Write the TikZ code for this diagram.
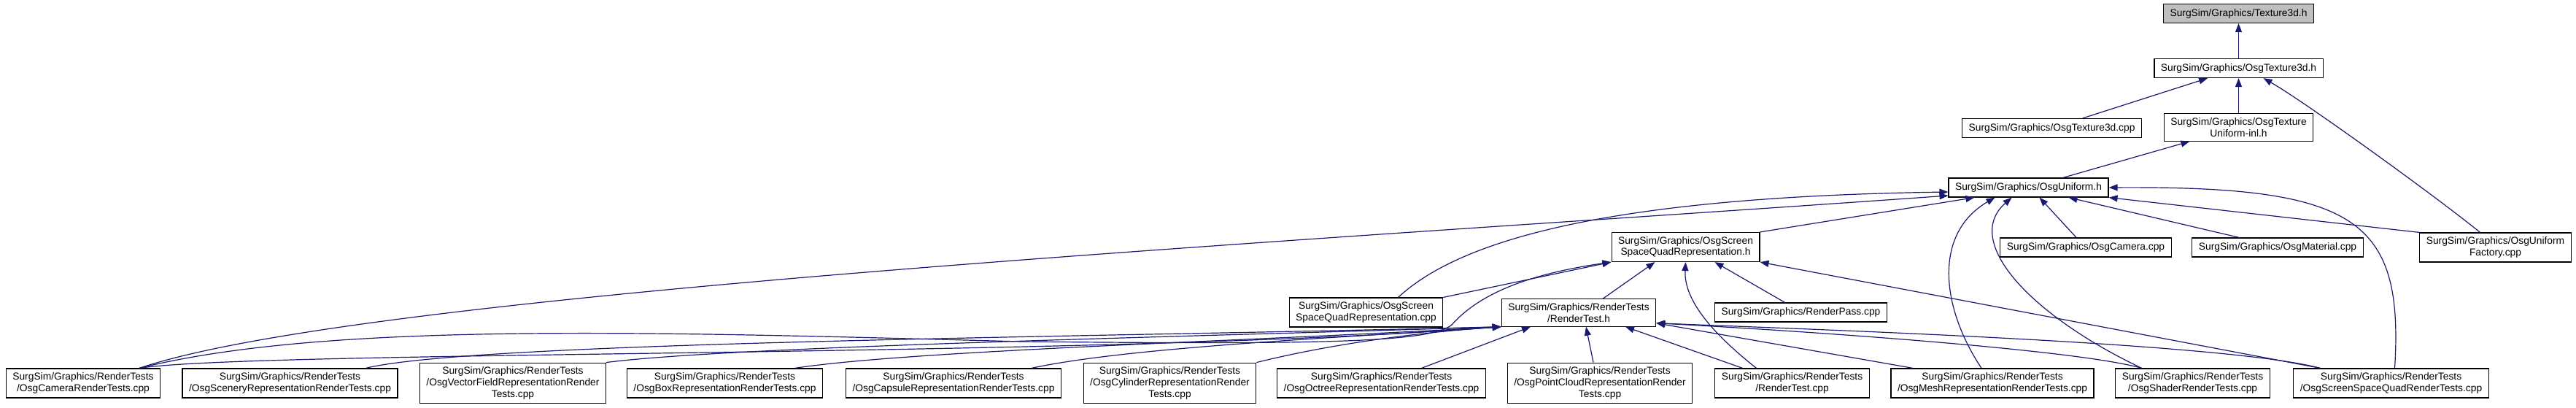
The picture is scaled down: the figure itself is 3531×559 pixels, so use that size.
\documentclass[tikz,border=0pt]{standalone}
\usepackage{fontspec}
\setmainfont{Liberation Sans}
\usetikzlibrary{arrows.meta}
\definecolor{edg}{HTML}{191970}
\definecolor{rootgray}{HTML}{BFBFBF}
\tikzset{
  file/.style={draw=black,line width=1.2pt,fill=white,align=center,inner xsep=9pt,inner ysep=5.7pt,minimum height=26pt,font=\fontsize{13.8}{15.7}\selectfont},
  root/.style={file,fill=rootgray},
  inc/.style={-{Triangle[length=12pt,width=9pt]},line width=1.2pt,draw=edg},
}

\begin{document}
\begin{tikzpicture}[x=1pt,y=-1pt]
\useasboundingbox (0,0) rectangle (3531,559);
\node[root] (tex) at (3068.5,18.5) {SurgSim/Graphics/Texture3d.h};
\node[file] (t3dh) at (3068.5,93.5) {SurgSim/Graphics/OsgTexture3d.h};
\node[file] (t3dcpp) at (2812.5,175.5) {SurgSim/Graphics/OsgTexture3d.cpp};
\node[file] (inl) at (3068.5,174.5) {SurgSim/Graphics/OsgTexture\\Uniform-inl.h};
\node[file] (uni) at (2780.5,257) {SurgSim/Graphics/OsgUniform.h};
\node[file] (ssqh) at (2310.5,338.5) {SurgSim/Graphics/OsgScreen\\SpaceQuadRepresentation.h};
\node[file] (cam) at (2859,339) {SurgSim/Graphics/OsgCamera.cpp};
\node[file] (mat) at (3122,339) {SurgSim/Graphics/OsgMaterial.cpp};
\node[file] (fac) at (3420.5,339) {SurgSim/Graphics/OsgUniform\\Factory.cpp};
\node[file] (ssqcpp) at (1872.5,428) {SurgSim/Graphics/OsgScreen\\SpaceQuadRepresentation.cpp};
\node[file] (rth) at (2164,428.5) {SurgSim/Graphics/RenderTests\\/RenderTest.h};
\node[file] (rpass) at (2468.5,428) {SurgSim/Graphics/RenderPass.cpp};
\node[file] (camrt) at (114,525) {SurgSim/Graphics/RenderTests\\/OsgCameraRenderTests.cpp};
\node[file] (scenrt) at (397.5,525) {SurgSim/Graphics/RenderTests\\/OsgSceneryRepresentationRenderTests.cpp};
\node[file] (vfrt) at (703,525) {SurgSim/Graphics/RenderTests\\/OsgVectorFieldRepresentationRender\\Tests.cpp};
\node[file] (boxrt) at (993.5,525) {SurgSim/Graphics/RenderTests\\/OsgBoxRepresentationRenderTests.cpp};
\node[file] (capsrt) at (1307,525) {SurgSim/Graphics/RenderTests\\/OsgCapsuleRepresentationRenderTests.cpp};
\node[file] (cylrt) at (1603.5,525) {SurgSim/Graphics/RenderTests\\/OsgCylinderRepresentationRender\\Tests.cpp};
\node[file] (octrt) at (1893.5,525) {SurgSim/Graphics/RenderTests\\/OsgOctreeRepresentationRenderTests.cpp};
\node[file] (pcrt) at (2193,525) {SurgSim/Graphics/RenderTests\\/OsgPointCloudRepresentationRender\\Tests.cpp};
\node[file] (rtcpp) at (2456.5,525) {SurgSim/Graphics/RenderTests\\/RenderTest.cpp};
\node[file] (meshrt) at (2731,525) {SurgSim/Graphics/RenderTests\\/OsgMeshRepresentationRenderTests.cpp};
\node[file] (shadrt) at (3005.5,525) {SurgSim/Graphics/RenderTests\\/OsgShaderRenderTests.cpp};
\node[file] (ssqrt) at (3277.5,525) {SurgSim/Graphics/RenderTests\\/OsgScreenSpaceQuadRenderTests.cpp};

\draw[inc] (t3dh) -- (tex);
\draw[inc] (t3dcpp) -- (t3dh);
\draw[inc] (inl) -- (t3dh);
\draw[inc] ([xshift=-21pt]fac.north) .. controls (3340,270) and (3160,140) .. ([xshift=34pt]t3dh.south);
\draw[inc] (uni) -- (inl);

\draw[inc] (ssqh.north east) -- ([xshift=36pt]uni.south west);
\draw[inc] ([xshift=44pt]ssqcpp.north) .. controls (2000,330) and (2200,270) .. ([yshift=-6pt]uni.west);
\draw[inc] ([xshift=77pt]camrt.north) .. controls (500,400) and (1800,330) .. ([yshift=-11pt]uni.west);
\draw[inc] ([xshift=-13pt]cam.north) -- ([xshift=15pt]uni.south);
\draw[inc] ([xshift=-53pt]mat.north) -- ([xshift=55pt]uni.south);
\draw[inc] (fac.north west) -- (uni.south east);
\draw[inc] ([xshift=-15pt]meshrt.north) .. controls (2660,420) and (2650,320) .. ([xshift=-46pt]uni.south);
\draw[inc] ([xshift=-70pt]shadrt.north) .. controls (2780,430) and (2690,330) .. ([xshift=-23pt]uni.south);
\draw[inc] ([xshift=5pt]ssqrt.north) .. controls (3295,300) and (3230,255) .. (uni.east);

\draw[inc] (ssqcpp.north east) -- (ssqh.south west);
\draw[inc] ([xshift=77pt]camrt.north) .. controls (450,440) and (900,455) .. (1400,468) .. controls (1800,472) and (1960,470) .. (1990,445) .. controls (2030,400) and (2100,375) .. (ssqh.south west);
\draw[inc] ([xshift=33pt]rth.north) -- ([xshift=-42pt]ssqh.south);
\draw[inc] ([xshift=-22pt]rpass.north) -- ([xshift=40pt]ssqh.south);
\draw[inc] ([xshift=-49pt]rtcpp.north) .. controls (2345,455) and (2308,410) .. (ssqh.south);
\draw[inc] ([xshift=-97pt]ssqrt.north) -- (ssqh.south east);

\draw[inc] ([xshift=77pt]camrt.north) .. controls (350,480) and (1500,490) .. (rth.south west);
\draw[inc] ([xshift=104pt]scenrt.north) .. controls (650,468) and (1500,462) .. (rth.south west);
\draw[inc] (vfrt.north east) .. controls (1000,475) and (1600,462) .. (rth.south west);
\draw[inc] ([xshift=96pt]boxrt.north) .. controls (1250,480) and (1700,468) .. (rth.south west);
\draw[inc] ([xshift=107pt]capsrt.north) .. controls (1550,475) and (1850,462) .. (rth.south west);
\draw[inc] (cylrt.north east) .. controls (1830,470) and (1950,455) .. (rth.south west);
\draw[inc] ([xshift=55pt]octrt.north) -- ([xshift=-66pt]rth.south);
\draw[inc] ([xshift=-9pt]pcrt.north) -- ([xshift=10pt]rth.south);
\draw[inc] ([xshift=-68pt]rtcpp.north) -- ([xshift=64pt]rth.south);
\draw[inc] ([xshift=-109pt]meshrt.north) -- ([yshift=5pt]rth.south east);
\draw[inc] ([xshift=-70pt]shadrt.north) .. controls (2850,480) and (2500,455) .. ([yshift=5pt]rth.south east);
\draw[inc] ([xshift=-97pt]ssqrt.north) .. controls (3050,470) and (2500,452) .. ([yshift=5pt]rth.south east);
\end{tikzpicture}
\end{document}
